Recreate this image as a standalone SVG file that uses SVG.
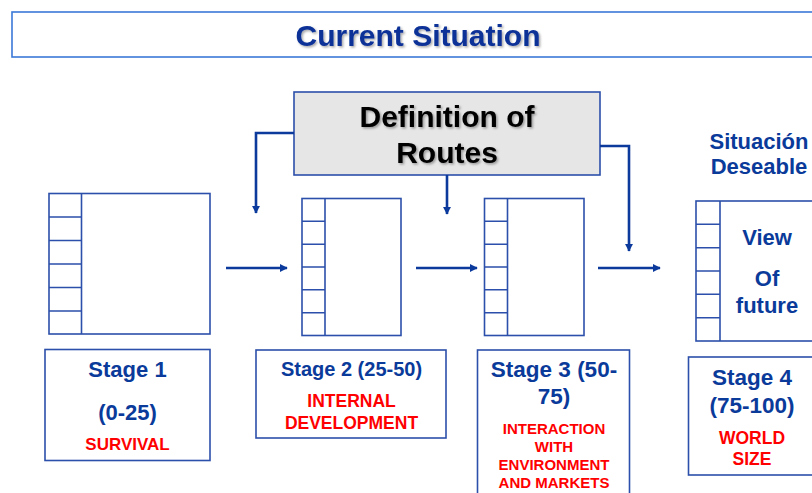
<svg xmlns="http://www.w3.org/2000/svg" width="812" height="493" viewBox="0 0 812 493">
<defs>
<style>
.page{fill:#fff;stroke:#2b4faa;stroke-width:1.6}
.cell{fill:none;stroke:#2b4faa;stroke-width:1.6}
.lbl{fill:#fff;stroke:#2b4faa;stroke-width:1.6}
.con{fill:none;stroke:#0b3a9c;stroke-width:2.6}
.b{font-family:"Liberation Sans",Arial,sans-serif;font-weight:bold;text-anchor:middle}
.blue{fill:#0a3a9a}
.red{fill:#ff0000}
</style>
<marker id="ah" viewBox="0 0 10 10" refX="9" refY="5" markerWidth="3.2" markerHeight="3.2" orient="auto" markerUnits="strokeWidth">
<path d="M0,0 L10,5 L0,10 z" fill="#0b3a9c"/>
</marker>
<filter id="sh" x="-10%" y="-20%" width="130%" height="150%">
<feDropShadow dx="1.5" dy="1.5" stdDeviation="0.8" flood-color="#000" flood-opacity="0.35"/>
</filter>
</defs>
<rect width="812" height="493" fill="#fff"/>

<g id="title">
<rect x="12" y="12" width="810" height="45" fill="#fff" stroke="#3a78d8" stroke-width="1.6"/>
<text x="418" y="46" class="b" font-size="30" fill="#0a3097" filter="url(#sh)">Current Situation</text>
</g>

<g id="routes">
<rect x="294" y="92" width="306" height="83" fill="#e6e6e6" stroke="#2b4faa" stroke-width="1.6"/>
<text x="447" y="127" class="b" font-size="30" fill="#000" filter="url(#sh)">Definition of</text>
<text x="447" y="163" class="b" font-size="30" fill="#000" filter="url(#sh)">Routes</text>
</g>

<g id="connectors">
<path class="con" d="M294,133 H256 V213" marker-end="url(#ah)"/>
<path class="con" d="M447,175 V214" marker-end="url(#ah)"/>
<path class="con" d="M600,146 H629 V251" marker-end="url(#ah)"/>
<path class="con" d="M226,268 H287" marker-end="url(#ah)"/>
<path class="con" d="M416,268 H477" marker-end="url(#ah)"/>
<path class="con" d="M598,268 H660" marker-end="url(#ah)"/>
</g>

<g id="page1">
<rect class="page" x="49" y="193.5" width="161" height="140.5"/>
<path class="cell" d="M81.5,193.5 V334 M49,217 H81.5 M49,240.5 H81.5 M49,264 H81.5 M49,287.5 H81.5 M49,311 H81.5"/>
</g>
<g id="page2">
<rect class="page" x="302" y="198.5" width="99" height="137"/>
<path class="cell" d="M325,198.5 V335.5 M302,221.3 H325 M302,244.2 H325 M302,267 H325 M302,289.8 H325 M302,312.7 H325"/>
</g>
<g id="page3">
<rect class="page" x="484.5" y="198.5" width="99.5" height="137"/>
<path class="cell" d="M507.5,198.5 V335.5 M484.5,221.3 H507.5 M484.5,244.2 H507.5 M484.5,267 H507.5 M484.5,289.8 H507.5 M484.5,312.7 H507.5"/>
</g>
<g id="page4">
<rect class="page" x="696" y="201" width="130" height="140"/>
<path class="cell" d="M720,201 V341 M696,224.3 H720 M696,247.7 H720 M696,271 H720 M696,294.3 H720 M696,317.7 H720"/>
<text x="767" y="245" class="b blue" font-size="22">View</text>
<text x="767" y="286" class="b blue" font-size="22">Of</text>
<text x="767" y="313" class="b blue" font-size="22">future</text>
</g>

<g id="desired">
<text x="759" y="149" class="b blue" font-size="22">Situación</text>
<text x="759" y="174" class="b blue" font-size="22">Deseable</text>
</g>

<g id="stage1">
<rect class="lbl" x="45" y="349.5" width="165" height="111"/>
<text x="127.5" y="377" class="b blue" font-size="22">Stage 1</text>
<text x="127.5" y="420" class="b blue" font-size="22">(0-25)</text>
<text x="127.5" y="450" class="b red" font-size="17">SURVIVAL</text>
</g>

<g id="stage2">
<rect class="lbl" x="256" y="350" width="190" height="88"/>
<text x="351.5" y="376" class="b blue" font-size="20">Stage 2 (25-50)</text>
<text x="351.5" y="407" class="b red" font-size="17.5">INTERNAL</text>
<text x="351.5" y="428.5" class="b red" font-size="17.5">DEVELOPMENT</text>
</g>

<g id="stage3">
<rect class="lbl" x="477.5" y="350" width="152" height="160"/>
<text x="554" y="377" class="b blue" font-size="22.5">Stage 3 (50-</text>
<text x="554" y="404" class="b blue" font-size="22.5">75)</text>
<text x="554" y="433.5" class="b red" font-size="15">INTERACTION</text>
<text x="554" y="451.5" class="b red" font-size="15">WITH</text>
<text x="554" y="470" class="b red" font-size="15">ENVIRONMENT</text>
<text x="554" y="487.5" class="b red" font-size="15">AND MARKETS</text>
</g>

<g id="stage4">
<rect class="lbl" x="688.5" y="357" width="140" height="118"/>
<text x="752" y="385" class="b blue" font-size="22.5">Stage 4</text>
<text x="752" y="413" class="b blue" font-size="22.5">(75-100)</text>
<text x="752" y="444" class="b red" font-size="17.5">WORLD</text>
<text x="752" y="465" class="b red" font-size="17.5">SIZE</text>
</g>
</svg>
